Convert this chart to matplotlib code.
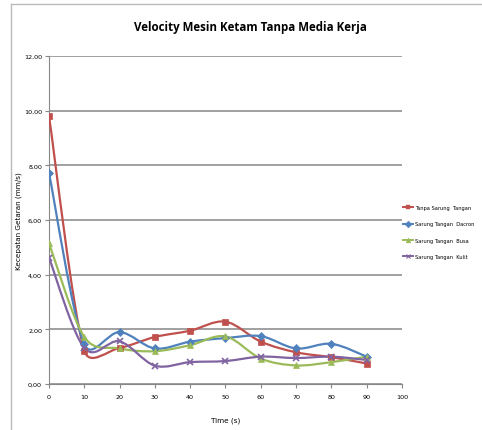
import numpy as np
import matplotlib
matplotlib.use("Agg")
import matplotlib.pyplot as plt
from matplotlib.path import Path
from matplotlib.patches import PathPatch
from matplotlib.lines import Line2D

# data
time = [0, 10, 20, 30, 40, 50, 60, 70, 80, 90]
tanpa = [9.8, 1.22, 1.32, 1.72, 1.95, 2.28, 1.55, 1.16, 0.98, 0.75]
dacron = [7.72, 1.45, 1.9, 1.3, 1.55, 1.68, 1.75, 1.3, 1.47, 1.0]
busa = [5.15, 1.72, 1.3, 1.2, 1.42, 1.74, 0.93, 0.68, 0.8, 1.0]
kulit = [4.62, 1.32, 1.56, 0.67, 0.8, 0.84, 1.0, 0.95, 1.0, 0.88]
names = ["Tanpa Sarung  Tangan", "Sarung Tangan  Dacron", "Sarung Tangan  Busa", "Sarung Tangan  Kulit"]
yticks = [0, 2, 4, 6, 8, 10, 12]
xticks = [0, 10, 20, 30, 40, 50, 60, 70, 80, 90, 100]

colors = ["#C0504D", "#4F81BD", "#9BBB59", "#8064A2"]
markers = ["s", "D", "^", "x"]
msizes = [5, 4, 5, 5]

# pixel per data unit, so the smoothing behaves like in screen space
SX, SY = 353 / 100, 328 / 12


def smooth_path(x, y):
    # Excel-like smoothed line (bezier, tension 1/6, clamped on uneven segments)
    p = np.column_stack([np.asarray(x, float) * SX, np.asarray(y, float) * SY])
    n = len(p)
    verts = [tuple(p[0])]
    codes = [Path.MOVETO]
    for i in range(n - 1):
        p0 = p[i - 1] if i > 0 else p[i]
        p1, p2 = p[i], p[i + 1]
        p3 = p[i + 2] if i + 2 < n else p[i + 1]
        d02 = np.linalg.norm(p2 - p0)
        d12 = np.linalg.norm(p2 - p1)
        d13 = np.linalg.norm(p3 - p1)
        f = 1 / 6 if d02 / 6 < d12 / 2 else d12 / (2 * d02)
        g = 1 / 6 if d13 / 6 < d12 / 2 else d12 / (2 * d13)
        c1 = p1 + f * (p2 - p0)
        c2 = p2 - g * (p3 - p1)
        verts += [tuple(c1), tuple(c2), tuple(p2)]
        codes += [Path.CURVE4] * 3
    verts = [(vx / SX, vy / SY) for vx, vy in verts]
    return Path(verts, codes)


fig = plt.figure(figsize=(4.82, 4.31), dpi=100)
ax = fig.add_axes([49 / 482, 1 - 385 / 431, 353 / 482, 328 / 431])

series = [tanpa, dacron, busa, kulit]
handles = []
for vals, c, m, ms, nm in zip(series, colors, markers, msizes, names):
    ax.add_patch(PathPatch(smooth_path(time, vals), fill=False, edgecolor=c, lw=1.6, zorder=3))
    ax.plot(time, vals, ls="none", marker=m, color=c, ms=ms, mew=1.2 if m == "x" else 0.5, zorder=4)
    handles.append(Line2D([0], [0], color=c, lw=1.4, marker=m, ms=3.5, mew=0.8 if m == "x" else 0.3))

ax.set_xlim(0, 100)
ax.set_ylim(0, 12)
ax.set_xticks(xticks)
ax.set_yticks(yticks)
ax.set_yticklabels([("%.2f" % v).replace(".", ",") for v in yticks])
ax.tick_params(labelsize=4.6, length=3, color="#888888", direction="out", pad=2)
ax.tick_params(axis="x", pad=4)
ax.yaxis.grid(True, color="#999999", lw=1.3)
ax.set_axisbelow(True)
for s in ["top", "right"]:
    ax.spines[s].set_visible(False)
for s in ["left", "bottom"]:
    ax.spines[s].set_color("#888888")
ax.set_xlabel("Time (s)", fontsize=5.2)
ax.set_ylabel("Kecepatan Getaran (mm/s)", fontsize=5.2)
ax.xaxis.set_label_coords(0.5, -(418 - 385) / 328)
ax.yaxis.set_label_coords((22 - 49) / 353, 0.5)

fig.text(0.52, 1 - 28 / 431, "Velocity Mesin Ketam Tanpa Media Kerja", ha="center", va="center",
         fontsize=8.3, fontweight="bold", family="Open Sans")

fig.legend(handles, names, loc="center left", bbox_to_anchor=(403 / 482, 1 - 233 / 431),
           frameon=False, fontsize=3.7, handlelength=2.0, handletextpad=0.3, labelspacing=2.2,
           borderpad=0, borderaxespad=0)

# outer chart frame (left and top edges visible)
fig.add_artist(Line2D([11 / 482, 11 / 482], [0, 1 - 5 / 431], color="#bbbbbb", lw=1.0))
fig.add_artist(Line2D([11 / 482, 1], [1 - 5 / 431, 1 - 5 / 431], color="#bbbbbb", lw=1.0))

fig.savefig("out.png", dpi=100)
